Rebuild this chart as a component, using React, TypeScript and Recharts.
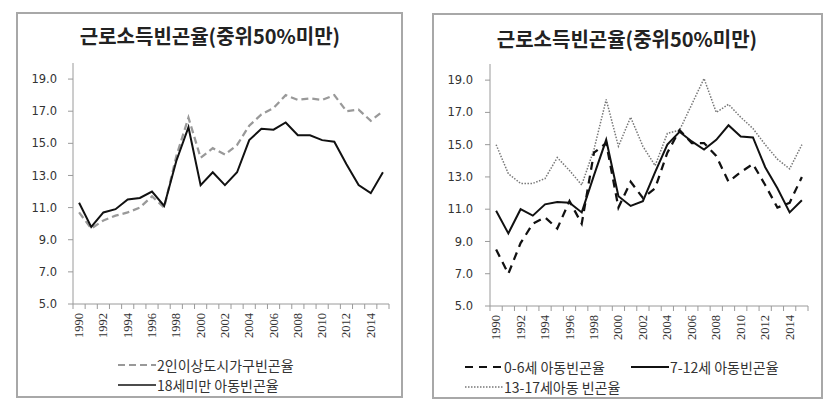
import React from 'react';
import { LineChart, Line, XAxis, YAxis } from 'recharts';

// 연도 (1990~2015)
const years = [
  1990, 1991, 1992, 1993, 1994, 1995, 1996, 1997, 1998, 1999, 2000, 2001, 2002,
  2003, 2004, 2005, 2006, 2007, 2008, 2009, 2010, 2011, 2012, 2013, 2014, 2015,
];

// 왼쪽 패널
const urbanHouseholds = [
  10.7, 9.7, 10.2, 10.5, 10.7, 11.0, 11.7, 11.0, 14.2, 16.6, 14.1, 14.7, 14.3,
  14.9, 16.1, 16.8, 17.2, 18.0, 17.7, 17.8, 17.7, 18.0, 17.0, 17.1, 16.4, 17.0,
];
const childUnder18 = [
  11.3, 9.8, 10.7, 10.9, 11.5, 11.6, 12.0, 11.1, 13.9, 16.0, 12.4, 13.2, 12.4,
  13.2, 15.2, 15.9, 15.85, 16.3, 15.5, 15.5, 15.2, 15.1, 13.7, 12.4, 11.9, 13.2,
];

// 오른쪽 패널
const age0to6 = [
  8.5, 7.0, 8.9, 10.1, 10.5, 9.8, 11.5, 10.1, 14.5, 15.1, 11.1, 12.7, 11.7,
  12.3, 14.5, 15.9, 15.1, 15.1, 14.3, 12.7, 13.3, 13.8, 12.5, 11.1, 11.4, 13.0,
];
const age7to12 = [
  10.9, 9.5, 11.0, 10.6, 11.3, 11.45, 11.4, 10.8, 13.1, 15.3, 11.8, 11.2, 11.5,
  13.3, 15.0, 15.8, 15.2, 14.7, 15.3, 16.2, 15.5, 15.45, 13.6, 12.3, 10.8, 11.55,
];
const age13to17 = [
  15.0, 13.2, 12.6, 12.6, 12.9, 14.2, 13.4, 12.5, 14.7, 17.8, 14.9, 16.7, 14.9,
  13.7, 15.7, 15.9, 17.5, 19.1, 17.0, 17.5, 16.7, 16.0, 15.0, 14.1, 13.5, 15.0,
];

const yTicks = [5, 7, 9, 11, 13, 15, 17, 19];
const labelYears = [1990, 1992, 1994, 1996, 1998, 2000, 2002, 2004, 2006, 2008, 2010, 2012, 2014];
const title = '근로소득빈곤율(중위50%미만)';

const leftData = years.map((year, i) => ({
  year,
  urban: urbanHouseholds[i],
  child: childUnder18[i],
}));
const rightData = years.map((year, i) => ({
  year,
  a: age0to6[i],
  b: age7to12[i],
  c: age13to17[i],
}));

// tick values: category boundaries (marks) plus label years
const boundaries = [...years.map((y) => y - 0.5), years[years.length - 1] + 0.5];
const xTicks = [...boundaries, ...labelYears].sort((a, b) => a - b);

const AXIS = '#9a9a9a';

const XTick = (props: any) => {
  const { x, y, payload } = props;
  const v = payload.value as number;
  if (v % 1 !== 0) {
    return <line x1={x} x2={x} y1={y} y2={y + 5} stroke={AXIS} strokeWidth={1} />;
  }
  return (
    <text
      x={x}
      y={y + 9}
      transform={`rotate(-90, ${x}, ${y + 9})`}
      textAnchor="end"
      dominantBaseline="central"
      fontFamily="'Liberation Serif', serif"
      fontSize={12.5}
      fill="#333"
    >
      {v}
    </text>
  );
};

const yTickStyle = { fontSize: 11.5, fill: '#333', fontFamily: "'DejaVu Sans', sans-serif" };

const boxStyle = (left: number, top: number, w: number, h: number): React.CSSProperties => ({
  position: 'absolute',
  left,
  top,
  width: w,
  height: h,
  boxSizing: 'border-box',
  border: '2px solid #a8a8a8',
  background: '#fff',
});

const titleStyle = (cx: number, top: number): React.CSSProperties => ({
  position: 'absolute',
  left: cx - 160,
  top,
  width: 320,
  textAlign: 'center',
  fontFamily: "'Noto Sans CJK KR', sans-serif",
  fontWeight: 700,
  fontSize: 20,
  color: '#222',
  whiteSpace: 'nowrap',
});

const LegendItem = ({
  x, y, label, stroke, dash, width = 2,
}: { x: number; y: number; label: string; stroke: string; dash?: string; width?: number }) => (
  <div style={{ position: 'absolute', left: x, top: y - 10, height: 20, display: 'flex', alignItems: 'center' }}>
    <svg width={38} height={20}>
      <line x1={0} x2={38} y1={10} y2={10} stroke={stroke} strokeWidth={width} strokeDasharray={dash} />
    </svg>
    <span
      style={{
        fontFamily: "'Noto Sans CJK KR', sans-serif",
        fontSize: 14,
        color: '#333',
        marginLeft: 1,
        whiteSpace: 'nowrap',
      }}
    >
      {label}
    </span>
  </div>
);

export default function App() {
  return (
    <div style={{ position: 'absolute', left: 0, top: 0, width: 838, height: 408, background: '#fff' }}>
      <div style={boxStyle(16, 12, 387, 386)} />
      <div style={boxStyle(432, 13, 391, 386)} />

      <div style={titleStyle(210, 21)}>{title}</div>
      <div style={titleStyle(627, 24)}>{title}</div>

      <div style={{ position: 'absolute', left: 0, top: 0 }}>
        <LineChart width={420} height={408} data={leftData} margin={{ top: 63, right: 31, bottom: 64, left: 0 }}>
          <XAxis
            dataKey="year"
            type="number"
            domain={[1989.5, 2015.5]}
            ticks={xTicks}
            interval={0}
            tick={<XTick />}
            tickLine={false}
            tickSize={0}
            tickMargin={0}
            height={40}
            axisLine={{ stroke: AXIS }}
          />
          <YAxis
            type="number"
            domain={[5, 20]}
            ticks={yTicks}
            interval={0}
            width={73}
            tickSize={5}
            tickMargin={11}
            tick={yTickStyle}
            tickFormatter={(v: number) => v.toFixed(1)}
            tickLine={{ stroke: AXIS }}
            axisLine={{ stroke: AXIS }}
          />
          <Line
            dataKey="urban"
            stroke="#999999"
            strokeWidth={2.25}
            strokeDasharray="7 4"
            dot={false}
            isAnimationActive={false}
          />
          <Line dataKey="child" stroke="#111" strokeWidth={2} dot={false} isAnimationActive={false} />
        </LineChart>
      </div>

      <div style={{ position: 'absolute', left: 420, top: 0 }}>
        <LineChart width={418} height={408} data={rightData} margin={{ top: 64, right: 30, bottom: 62, left: 0 }}>
          <XAxis
            dataKey="year"
            type="number"
            domain={[1989.5, 2015.5]}
            ticks={xTicks}
            interval={0}
            tick={<XTick />}
            tickLine={false}
            tickSize={0}
            tickMargin={0}
            height={40}
            axisLine={{ stroke: AXIS }}
          />
          <YAxis
            type="number"
            domain={[5, 20]}
            ticks={yTicks}
            interval={0}
            width={70}
            tickSize={5}
            tickMargin={12}
            tick={yTickStyle}
            tickFormatter={(v: number) => v.toFixed(1)}
            tickLine={{ stroke: AXIS }}
            axisLine={{ stroke: AXIS }}
          />
          <Line
            dataKey="c"
            stroke="#777"
            strokeWidth={1.5}
            strokeDasharray="1.5 1.5"
            dot={false}
            isAnimationActive={false}
          />
          <Line
            dataKey="a"
            stroke="#111"
            strokeWidth={2.25}
            strokeDasharray="8 6"
            dot={false}
            isAnimationActive={false}
          />
          <Line dataKey="b" stroke="#111" strokeWidth={2} dot={false} isAnimationActive={false} />
        </LineChart>
      </div>

      <LegendItem x={118} y={365} label="2인이상도시가구빈곤율" stroke="#999" dash="7 4" />
      <LegendItem x={118} y={385} label="18세미만 아동빈곤율" stroke="#111" width={1.5} />

      <LegendItem x={465} y={367} label="0-6세 아동빈곤율" stroke="#111" dash="8 6" />
      <LegendItem x={631} y={367} label="7-12세 아동빈곤율" stroke="#111" />
      <LegendItem x={465} y={387} label="13-17세아동 빈곤율" stroke="#777" dash="1.5 1.5" width={1.5} />
    </div>
  );
}
